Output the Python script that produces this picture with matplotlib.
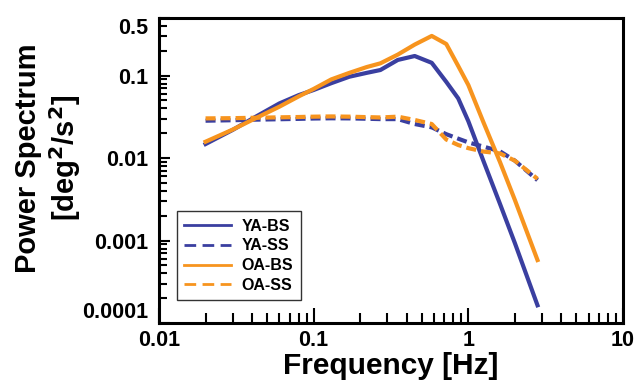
import numpy as np
import matplotlib
matplotlib.use('Agg')
import matplotlib.pyplot as plt
from matplotlib.ticker import FixedLocator, NullFormatter, LogLocator

plt.rcParams['font.family'] = ['Liberation Sans', 'DejaVu Sans']
plt.rcParams['font.weight'] = 'bold'

# frequency bins [Hz]
freq = [0.02, 0.03, 0.04, 0.06, 0.08, 0.1, 0.13, 0.17, 0.22, 0.27,
        0.35, 0.45, 0.58, 0.72, 0.86, 1.0, 1.25, 1.6, 2.0, 2.8]

# power spectra [deg^2/s^2]
ya_bs = [0.0148, 0.022, 0.030, 0.046, 0.058, 0.067, 0.081, 0.097, 0.108, 0.117,
         0.155, 0.173, 0.143, 0.084, 0.053, 0.028, 0.0093, 0.0028, 0.00093, 0.000164]
ya_ss = [0.0284, 0.0288, 0.0292, 0.0296, 0.0299, 0.0302, 0.0304, 0.0303, 0.0300, 0.0297,
         0.0297, 0.0259, 0.0236, 0.0195, 0.0172, 0.0155, 0.0138, 0.0121, 0.0093, 0.0054]
oa_bs = [0.0158, 0.0222, 0.029, 0.042, 0.056, 0.069, 0.090, 0.108, 0.127, 0.141,
         0.180, 0.238, 0.303, 0.242, 0.131, 0.077, 0.0274, 0.009, 0.0031, 0.00058]
oa_ss = [0.0303, 0.0305, 0.0308, 0.0312, 0.0315, 0.0318, 0.0320, 0.0318, 0.0314, 0.0311,
         0.0318, 0.0290, 0.0259, 0.0168, 0.0144, 0.0132, 0.0120, 0.0114, 0.0093, 0.0056]

blue = '#3a3fa0'
orange = '#f7941e'

fig = plt.figure(figsize=(6.41, 3.90), dpi=100)
ax = fig.add_axes([159/641, 1 - 323/390, 464/641, 305/390])

lw = 3.0
ax.plot(freq, ya_bs, color=blue, lw=lw, label='YA-BS')
ax.plot(freq, ya_ss, color=blue, lw=lw, dashes=(2.4, 1.2), label='YA-SS')
ax.plot(freq, oa_bs, color=orange, lw=lw, label='OA-BS')
ax.plot(freq, oa_ss, color=orange, lw=lw, dashes=(2.4, 1.2), label='OA-SS')

ax.set_xscale('log')
ax.set_yscale('log')
ax.set_xlim(0.01, 10)
ax.set_ylim(0.0001, 0.5)

ax.xaxis.set_major_locator(FixedLocator([0.01, 0.1, 1, 10]))
ax.set_xticklabels(['0.01', '0.1', '1', '10'])
ax.xaxis.set_minor_locator(LogLocator(base=10, subs=np.arange(2, 10)))
ax.xaxis.set_minor_formatter(NullFormatter())

ax.yaxis.set_major_locator(FixedLocator([0.0001, 0.001, 0.01, 0.1, 0.5]))
ax.set_yticklabels(['0.0001', '0.001', '0.01', '0.1', '0.5'])
ax.yaxis.set_minor_locator(LogLocator(base=10, subs=np.arange(2, 10)))
ax.yaxis.set_minor_formatter(NullFormatter())

ax.tick_params(axis='both', which='both', direction='in', width=1.5, labelsize=15.5)
ax.tick_params(axis='x', which='major', length=11, pad=5)
ax.tick_params(axis='x', which='minor', length=7)
ax.tick_params(axis='y', which='major', length=8, pad=8)
ax.tick_params(axis='y', which='minor', length=5.5)
for lab in ax.get_xticklabels() + ax.get_yticklabels():
    lab.set_fontweight('bold')
ylabs = ax.get_yticklabels()
ylabs[0].set_va('bottom')
ylabs[-1].set_va('top')

for s in ax.spines.values():
    s.set_linewidth(2.2)

ax.set_xlabel('Frequency [Hz]', fontsize=21.5, fontweight='bold', labelpad=1)
fig.text(48.5/641, 1 - 158/390, 'Power Spectrum\n[deg$^{2}$/s$^{2}$]', rotation=90,
         ha='center', va='center', fontsize=21, fontweight='bold',
         multialignment='center')

leg = ax.legend(loc='lower left', bbox_to_anchor=(0.039, 0.075), borderaxespad=0,
                fancybox=False, edgecolor='#333333', framealpha=1,
                prop={'size': 11.5, 'weight': 'bold'}, handlelength=2.9,
                handletextpad=0.7, labelspacing=0.3, borderpad=0.45)
leg.get_frame().set_linewidth(1.0)
for ln in leg.get_lines():
    ln.set_linewidth(2.0)
for ln in leg.get_lines()[1::2]:
    ln.set_dashes((4.2, 2.3))

fig.savefig('out.png', dpi=100)
